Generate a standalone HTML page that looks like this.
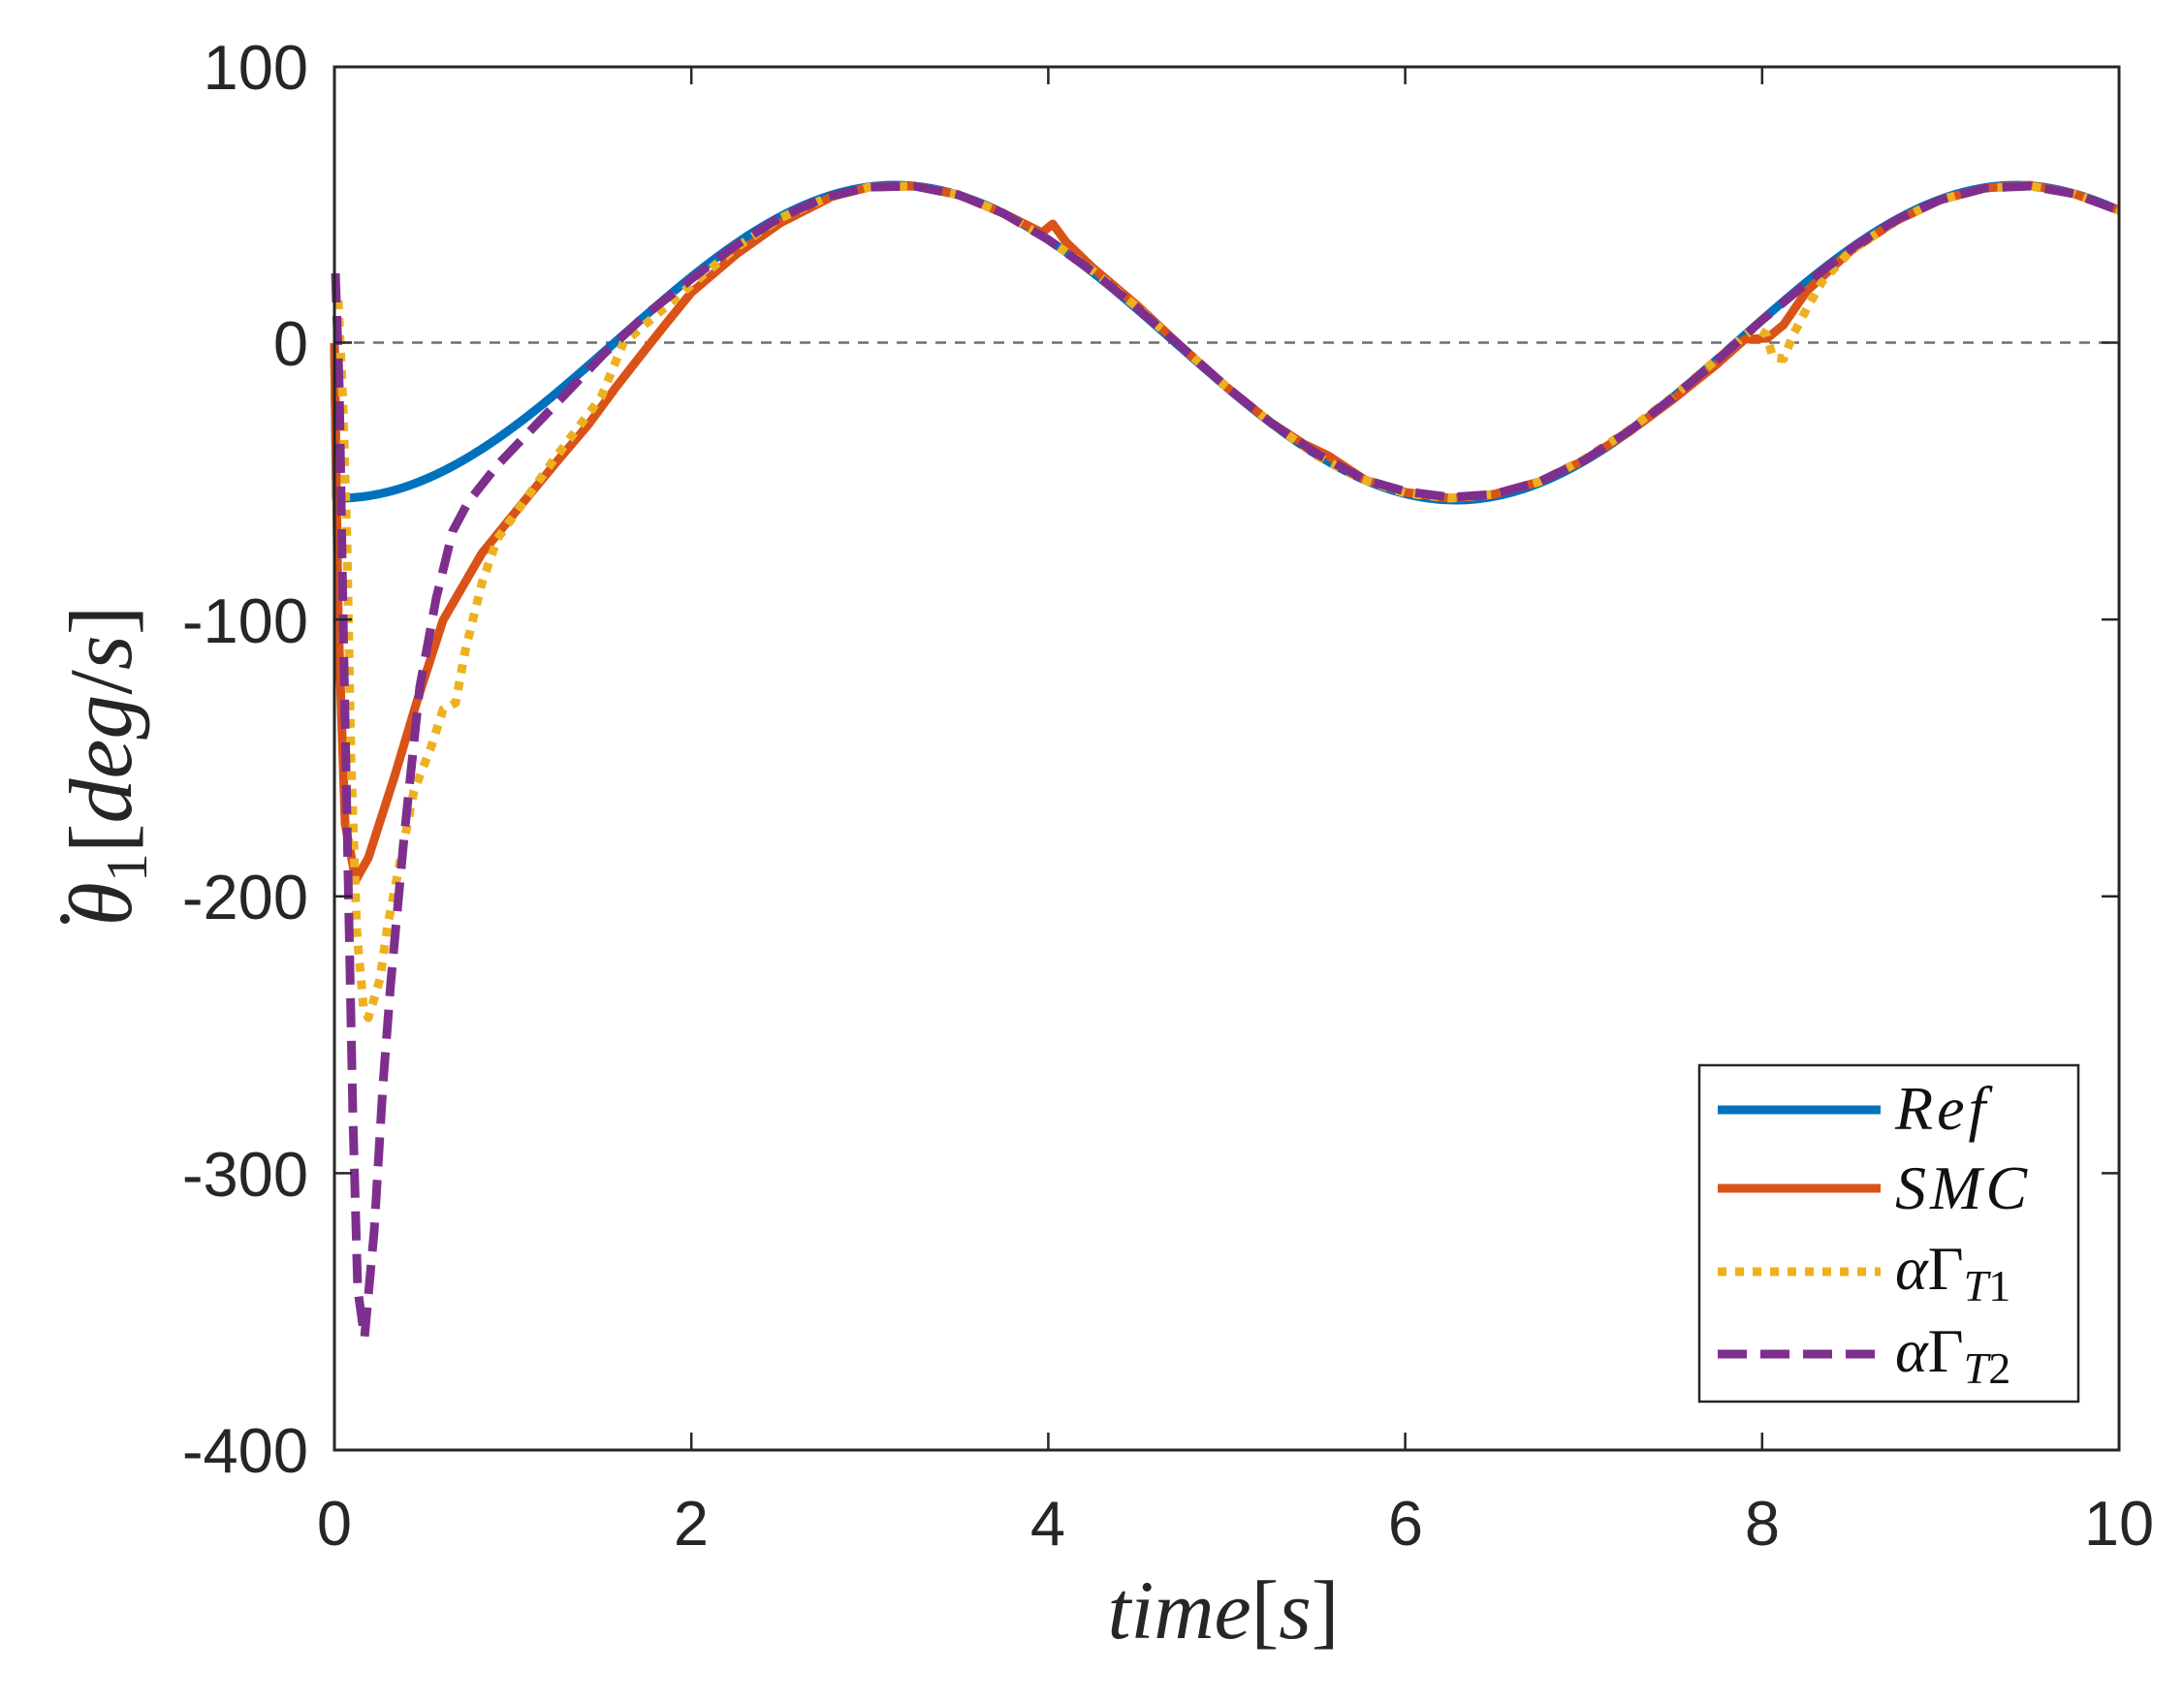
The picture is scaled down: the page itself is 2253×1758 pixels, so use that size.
<!DOCTYPE html>
<html><head><meta charset="utf-8"><style>
html,body{margin:0;padding:0;background:#fff;}
svg{display:block;}
</style></head><body>
<svg width="2253" height="1758" viewBox="0 0 2253 1758" xmlns="http://www.w3.org/2000/svg">
<rect width="2253" height="1758" fill="#fff"/>
<line x1="345" y1="353.5" x2="2186" y2="353.5" stroke="#6e6e6e" stroke-width="2.5" stroke-dasharray="11,9"/>
<g fill="none" stroke-linejoin="round" stroke-linecap="butt">
<path d="M345,354 L347,514 C555,516 713,191 923,191 C1134,191 1291,516 1502,516 C1712,516 1870,191 2080,191 C2120,191 2160,205 2186,217" stroke="#0072BD" stroke-width="9"/>
<path d="M345,354 L349,640 L356,850 L367,908 L380,885 L407,801 L430,724 L457,640 L497,571 L540,518 L573,478 L607,438 L635,400 L660,368 L687,334 L713,302 L760,262 L805,230 L860,202 L897,193 L943,192 L989,201 L1035,220 L1075,240 L1086,231 L1100,250 L1127,276 L1173,315 L1219,358 L1265,399 L1311,436 L1345,458 L1370,470 L1408,495 L1450,508 L1496,514 L1541,510 L1588,497 L1634,475 L1680,446 L1726,412 L1772,375 L1800,350 L1823,349 L1840,335 L1864,300 L1910,258 L1956,228 L2002,206 L2048,194 L2094,191 L2140,200 L2186,217" stroke="#D95319" stroke-width="9"/>
<path d="M349,310 L354,420 L358,560 L362,780 L368,960 L375,1040 L380,1050 L392,1010 L400,954 L427,816 L445,770 L457,732 L470,725 L480,671 L497,602 L513,556 L573,472 L620,410 L643,354 L713,294 L760,255 L805,225 L851,205 L897,193 L943,192 L989,201 L1035,220 L1081,247 L1127,279 L1173,317 L1219,358 L1265,399 L1311,436 L1358,470 L1404,494 L1450,509 L1496,514 L1541,510 L1588,497 L1634,474 L1680,444 L1726,409 L1772,370 L1810,338 L1822,345 L1829,369 L1840,370 L1850,345 L1864,318 L1880,290 L1910,258 L1956,228 L2002,206 L2048,194 L2094,192 L2140,200 L2186,217" stroke="#EDB120" stroke-width="9" stroke-dasharray="9,9"/>
<path d="M346,282 L350,400 L354,640 L359,900 L364,1150 L369,1330 L376,1380 L386,1270 L395,1120 L403,1015 L417,862 L433,709 L450,617 L467,548 L483,518 L513,480 L557,434 L623,365 L667,324 L713,288 L759,253 L805,224 L851,204 L897,193 L943,192 L989,201 L1035,220 L1081,247 L1127,280 L1173,318 L1219,358 L1265,399 L1311,436 L1358,468 L1408,495 L1450,507 L1496,513 L1541,510 L1588,497 L1634,475 L1680,445 L1726,410 L1772,371 L1818,330 L1864,292 L1910,256 L1956,227 L2002,206 L2048,194 L2094,192 L2140,200 L2186,217" stroke="#7E2F8E" stroke-width="9" stroke-dasharray="30,14"/>
</g>
<rect x="345" y="69" width="1841" height="1427" fill="none" stroke="#262626" stroke-width="3"/>
<g stroke="#262626" stroke-width="2.5">
<line x1="713.2" y1="1496" x2="713.2" y2="1478"/><line x1="1081.4" y1="1496" x2="1081.4" y2="1478"/><line x1="1449.6" y1="1496" x2="1449.6" y2="1478"/><line x1="1817.8" y1="1496" x2="1817.8" y2="1478"/>
<line x1="713.2" y1="69" x2="713.2" y2="87"/><line x1="1081.4" y1="69" x2="1081.4" y2="87"/><line x1="1449.6" y1="69" x2="1449.6" y2="87"/><line x1="1817.8" y1="69" x2="1817.8" y2="87"/>
<line x1="345" y1="353.5" x2="363" y2="353.5"/><line x1="345" y1="639.1" x2="363" y2="639.1"/><line x1="345" y1="924.7" x2="363" y2="924.7"/><line x1="345" y1="1210.4" x2="363" y2="1210.4"/>
<line x1="2186" y1="353.5" x2="2168" y2="353.5"/><line x1="2186" y1="639.1" x2="2168" y2="639.1"/><line x1="2186" y1="924.7" x2="2168" y2="924.7"/><line x1="2186" y1="1210.4" x2="2168" y2="1210.4"/>
</g>
<g font-family="Liberation Sans, sans-serif" font-size="65" fill="#262626">
<g text-anchor="end">
<text x="318" y="92">100</text><text x="318" y="377">0</text><text x="318" y="663">-100</text><text x="318" y="948">-200</text><text x="318" y="1234">-300</text><text x="318" y="1519">-400</text>
</g>
<g text-anchor="middle">
<text x="345" y="1594">0</text><text x="713" y="1594">2</text><text x="1081" y="1594">4</text><text x="1450" y="1594">6</text><text x="1818" y="1594">8</text><text x="2186" y="1594">10</text>
</g>
</g>
<text x="1262" y="1690" text-anchor="middle" font-family="Liberation Serif, serif" font-size="86" fill="#262626"><tspan font-style="italic">time</tspan>[<tspan font-style="italic">s</tspan>]</text>
<g transform="translate(135,790) rotate(-90)" font-family="Liberation Serif, serif" fill="#262626">
<text x="0" y="0" text-anchor="middle" font-size="92"><tspan font-style="italic">θ</tspan><tspan font-size="60" dy="16">1</tspan><tspan dy="-16">[</tspan><tspan font-style="italic">deg</tspan>/<tspan font-style="italic">s</tspan>]</text>
<circle cx="-158" cy="-68" r="5" fill="#262626"/>
</g>
<rect x="1753" y="1099" width="391" height="347" fill="#fff" stroke="#262626" stroke-width="2.5"/>
<line x1="1772" y1="1145" x2="1940" y2="1145" stroke="#0072BD" stroke-width="9"/>
<line x1="1772" y1="1226" x2="1940" y2="1226" stroke="#D95319" stroke-width="9"/>
<line x1="1772" y1="1312" x2="1940" y2="1312" stroke="#EDB120" stroke-width="9" stroke-dasharray="9,9"/>
<line x1="1772" y1="1397" x2="1940" y2="1397" stroke="#7E2F8E" stroke-width="9" stroke-dasharray="30,14"/>
<g font-family="Liberation Serif, serif" font-size="64" fill="#111">
<text x="1955" y="1165" font-style="italic" letter-spacing="4">Ref</text>
<text x="1955" y="1247" font-style="italic" letter-spacing="4">SMC</text>
<text x="1955" y="1330"><tspan font-style="italic">α</tspan>Γ<tspan font-size="46" font-style="italic" dy="12">T</tspan><tspan font-size="46" dy="0">1</tspan></text>
<text x="1955" y="1415"><tspan font-style="italic">α</tspan>Γ<tspan font-size="46" font-style="italic" dy="12">T</tspan><tspan font-size="46" dy="0">2</tspan></text>
</g>
</svg>
</body></html>
